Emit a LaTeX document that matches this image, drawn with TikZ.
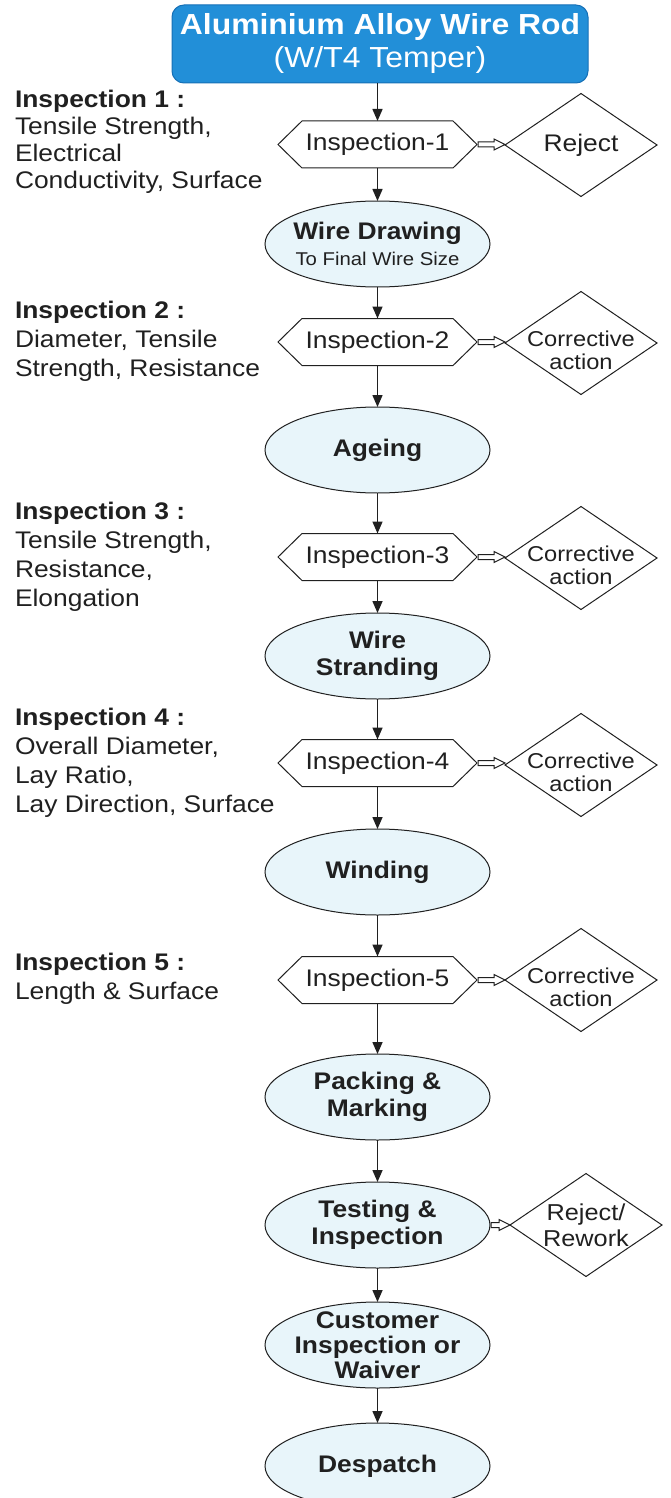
\documentclass[tikz,border=0pt]{standalone}
\usepackage{fontspec}
\setmainfont[FakeStretch=1.1]{Liberation Sans}
\usetikzlibrary{arrows.meta,backgrounds,calc}
\definecolor{titleblue}{RGB}{34,143,216}
\definecolor{titleedge}{RGB}{22,112,182}
\definecolor{ellfill}{RGB}{232,245,250}
\definecolor{ink}{RGB}{32,32,32}
\begin{document}
\begin{tikzpicture}[x=1pt,y=1pt,
  every node/.style={inner sep=0pt, outer sep=0pt, text=ink},
  titlebox/.style={rectangle, rounded corners=12pt, fill=titleblue, draw=titleedge, line width=1pt,
    minimum width=416pt, minimum height=78pt, text=white, align=center, font=\fontsize{29}{33}\selectfont},
  hexnode/.style={minimum width=199pt, minimum height=47pt, font=\fontsize{24}{28}\selectfont},
  dianode/.style={minimum width=152pt, minimum height=103pt, align=center},
  ellnode/.style={minimum width=225pt, minimum height=86pt, align=center, font=\fontsize{24}{27.5}\selectfont\bfseries},
  sidetext/.style={anchor=north west, align=left, font=\fontsize{24}{29}\selectfont},
  flow/.style={draw=ink, line width=1.5pt, -{Triangle[length=12pt,width=10pt]}},
  hollow/.style={draw=ink, line width=1pt, fill=white, line join=miter,
    to path={let \p1=(\tikztostart), \p2=(\tikztotarget) in
      (\x1+1pt,\y1+2.5pt) -- (\x2-11pt,\y1+2.5pt) -- (\x2-11pt,\y1+5.5pt) -- (\x2,\y1)
      -- (\x2-11pt,\y1-5.5pt) -- (\x2-11pt,\y1-2.5pt) -- (\x1+1pt,\y1-2.5pt) -- cycle}},
  shapeline/.style={draw=ink, line width=1pt},
]
\useasboundingbox (0,0) rectangle (670,-1498);

% title
\node[titlebox] (top) at (380,-44) {\textbf{Aluminium Alloy Wire Rod}\\(W/T4 Temper)};

% inspection hexagons
\node[hexnode] (h1) at (377.5,-144.5) {Inspection-1};
\node[hexnode] (h2) at (377.5,-342) {Inspection-2};
\node[hexnode] (h3) at (377.5,-557) {Inspection-3};
\node[hexnode] (h4) at (377.5,-763) {Inspection-4};
\node[hexnode] (h5) at (377.5,-980) {Inspection-5};

% decision diamonds
\node[dianode, font=\fontsize{24}{28}\selectfont] (d1) at (581,-145) {Reject};
\node[dianode, font=\fontsize{21.5}{22.5}\selectfont] (d2) at (581,-343) {\rule{0pt}{30pt}Corrective\\action};
\node[dianode, font=\fontsize{21.5}{22.5}\selectfont] (d3) at (581,-558) {\rule{0pt}{30pt}Corrective\\action};
\node[dianode, font=\fontsize{21.5}{22.5}\selectfont] (d4) at (581,-765) {\rule{0pt}{30pt}Corrective\\action};
\node[dianode, font=\fontsize{21.5}{22.5}\selectfont] (d5) at (581,-980) {\rule{0pt}{30pt}Corrective\\action};
\node[dianode, font=\fontsize{23}{26}\selectfont] (rr) at (586,-1225) {Reject/\\Rework};

% process ellipses
\node[ellnode] (e1) at (377.5,-244) {Wire Drawing\\[-2pt]{\fontsize{18.5}{20}\selectfont\mdseries To Final Wire Size}};
\node[ellnode] (e2) at (377.5,-450) {Ageing};
\node[ellnode] (e3) at (377.5,-656) {Wire\\Stranding};
\node[ellnode] (e4) at (377.5,-872) {Winding};
\node[ellnode] (e5) at (377.5,-1097) {Packing \&\\Marking};
\node[ellnode] (e6) at (377.5,-1225) {Testing \&\\Inspection};
\node[ellnode, font=\fontsize{24}{25}\selectfont\bfseries] (e7) at (377.5,-1345) {Customer\\Inspection or\\Waiver};
\node[ellnode] (e8) at (377.5,-1466) {Despatch};

% side texts
\node[sidetext, font=\fontsize{24}{27}\selectfont] (s1) at (15,-90) {\textbf{Inspection 1 :}\\Tensile Strength,\\Electrical\\Conductivity, Surface};
\node[sidetext] (s2) at (15,-301) {\textbf{Inspection 2 :}\\Diameter, Tensile\\Strength, Resistance};
\node[sidetext] (s3) at (15,-502) {\textbf{Inspection 3 :}\\Tensile Strength,\\Resistance,\\Elongation};
\node[sidetext] (s4) at (15,-708) {\textbf{Inspection 4 :}\\Overall Diameter,\\Lay Ratio,\\Lay Direction, Surface};
\node[sidetext] (s5) at (15,-953) {\textbf{Inspection 5 :}\\Length \& Surface};

% outlines behind the texts
\begin{scope}[on background layer]
  \foreach \i in {1,...,5}
    \draw[shapeline, fill=white] (h\i.west) -- ([xshift=24pt]h\i.north west) -- ([xshift=-24pt]h\i.north east)
      -- (h\i.east) -- ([xshift=-24pt]h\i.south east) -- ([xshift=24pt]h\i.south west) -- cycle;
  \foreach \n in {d1,d2,d3,d4,d5,rr}
    \draw[shapeline, fill=white] (\n.west) -- (\n.north) -- (\n.east) -- (\n.south) -- cycle;
  \foreach \i in {1,...,8}
    \draw[shapeline, fill=ellfill] (e\i.center) ellipse [x radius=112.5pt, y radius=43pt];
\end{scope}

% main flow
\draw[flow] (h1.north |- top.south) -- (h1.north);
\draw[flow] (h1.south) -- (e1.north);
\draw[flow] (e1.south) -- (h2.north);
\draw[flow] (h2.south) -- (e2.north);
\draw[flow] (e2.south) -- (h3.north);
\draw[flow] (h3.south) -- (e3.north);
\draw[flow] (e3.south) -- (h4.north);
\draw[flow] (h4.south) -- (e4.north);
\draw[flow] (e4.south) -- (h5.north);
\draw[flow] (h5.south) -- (e5.north);
\draw[flow] (e5.south) -- (e6.north);
\draw[flow] (e6.south) -- (e7.north);
\draw[flow] (e7.south) -- (e8.north);

% side branches (hollow arrows)
\draw[hollow] (h1.east) to (d1.west);
\draw[hollow] (h2.east) to (d2.west);
\draw[hollow] (h3.east) to (d3.west);
\draw[hollow] (h4.east) to (d4.west);
\draw[hollow] (h5.east) to (d5.west);
\draw[hollow] (e6.east) to (rr.west);
\end{tikzpicture}
\end{document}
